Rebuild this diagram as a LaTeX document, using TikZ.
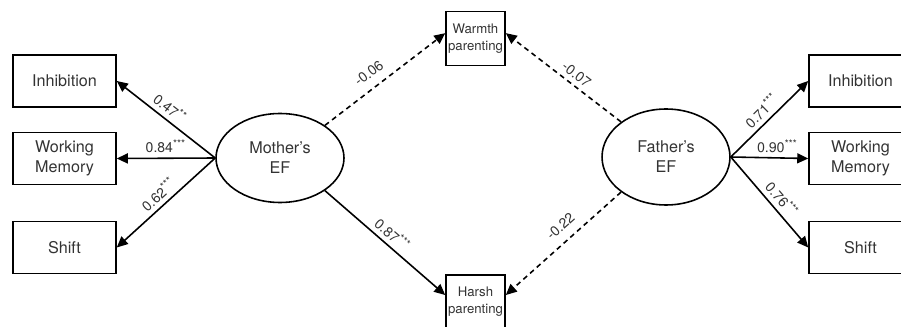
\documentclass[tikz,border=0pt]{standalone}
\usepackage{fontspec}
\setmainfont{TeX Gyre Heros}
\usetikzlibrary{arrows.meta, shapes.geometric}

\begin{document}
\begin{tikzpicture}[x=0.02cm, y=-0.02cm, line width=0.9pt,
    box/.style={draw, text=black!80, minimum width=2.06cm, minimum height=1.04cm,
        align=center, font=\fontsize{9.2}{11.3}\selectfont},
    smallbox/.style={draw, text=black!80, minimum width=1.18cm, minimum height=1.08cm,
        inner sep=0.5pt, align=center, font=\fontsize{7.5}{9.6}\selectfont},
    latent/.style={draw, ellipse, text=black!80, minimum width=2.56cm, minimum height=1.78cm,
        align=center, font=\fontsize{9.2}{11.3}\selectfont},
    sig/.style={-{Triangle[length=2.2mm, width=2mm]}},
    nonsig/.style={sig, dash pattern=on 1mm off 0.8mm},
    coef/.style={sloped, above, text=black!80, inner sep=2.5pt, font=\fontsize{8}{9}\selectfont}]
    \useasboundingbox (0, 0) rectangle (901, 327);

    \node[box] (inhibM) at (64.5, 81) {Inhibition};
    \node[box] (wmM) at (64.5, 158.5) {Working\\Memory};
    \node[box] (shiftM) at (64.5, 247.5) {Shift};
    \node[latent] (mom) at (280, 158) {Mother's\\EF};

    \node[latent, minimum height=1.92cm] (dad) at (666, 157) {Father's\\EF};
    \node[box] (inhibF) at (860.5, 81) {Inhibition};
    \node[box] (wmF) at (860.5, 158.5) {Working\\Memory};
    \node[box] (shiftF) at (860.5, 247.5) {Shift};

    \node[smallbox] (warm) at (475.5, 38.5) {Warmth\\parenting};
    \node[smallbox] (harsh) at (475.5, 302) {Harsh\\parenting};

    \draw[sig] (mom.west) -- (inhibM.east)
        node[coef, pos=0.53] {0.47\textsuperscript{**}};
    \draw[sig] (mom.west) -- (wmM.east)
        node[coef, pos=0.5] {0.84\textsuperscript{***}};
    \draw[sig] (mom.west) -- (shiftM.east)
        node[coef, pos=0.5] {0.62\textsuperscript{***}};
    \draw[sig] (dad.east) -- (inhibF.west)
        node[coef, pos=0.5] {0.71\textsuperscript{***}};
    \draw[sig] (dad.east) -- (wmF.west)
        node[coef, pos=0.6] {0.90\textsuperscript{***}};
    \draw[sig] (dad.east) -- (shiftF.west)
        node[coef, pos=0.55] {0.76\textsuperscript{***}};

    \draw[nonsig] (mom.36) -- (warm.170)
        node[coef, pos=0.44, inner sep=5pt] {-0.06};
    \draw[sig] (mom.-36) -- (harsh.167)
        node[coef, pos=0.5] {0.87\textsuperscript{***}};
    \draw[nonsig] (dad.142) -- (warm.10)
        node[coef, pos=0.44] {-0.07};
    \draw[nonsig] (dad.218) -- (harsh.13)
        node[coef, pos=0.44, inner sep=5pt] {-0.22};
\end{tikzpicture}
\end{document}
